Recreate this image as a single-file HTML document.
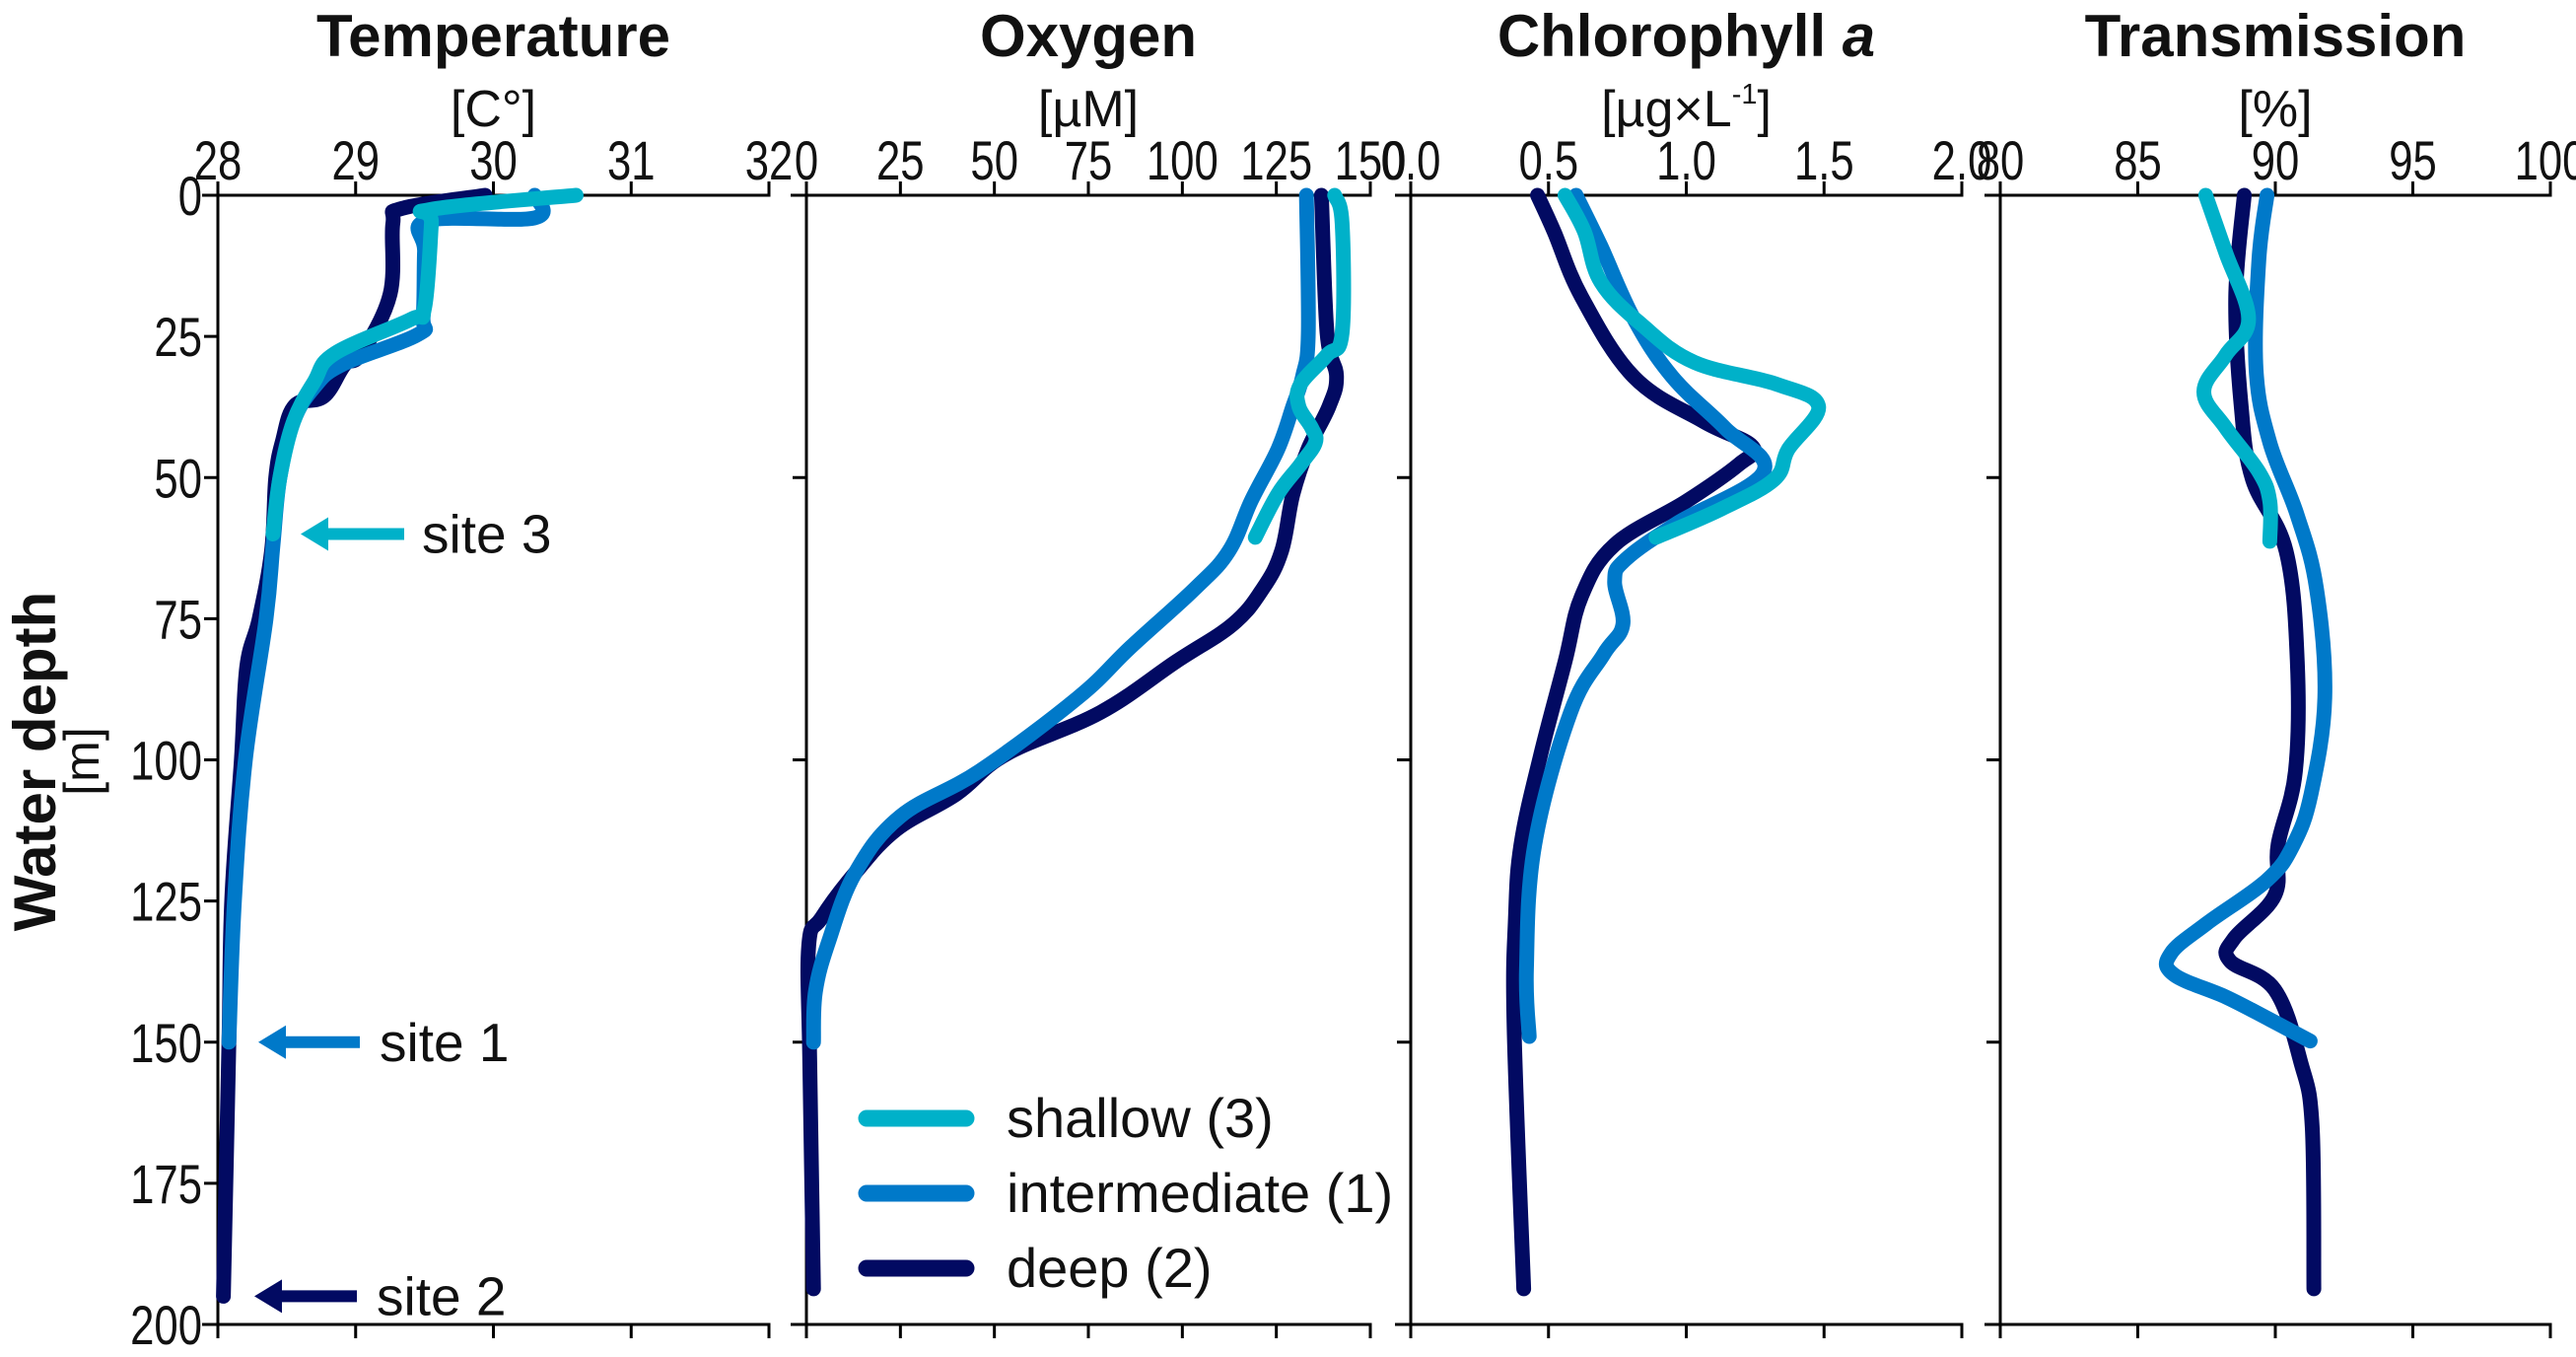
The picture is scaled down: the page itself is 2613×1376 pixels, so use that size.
<!DOCTYPE html>
<html><head><meta charset="utf-8"><style>
html,body{margin:0;padding:0;background:#fff;}
svg{display:block;}
text{font-family:"Liberation Sans",Arial,sans-serif;fill:#111;}
</style></head><body>
<svg id="chart" width="2613" height="1376" viewBox="0 0 2613 1376" xmlns="http://www.w3.org/2000/svg">
<g id="axes"></g>
<g id="series"></g>
<g id="labels">
  <text x="0" y="0" transform="translate(56,772) rotate(-90)" text-anchor="middle" font-size="60" font-weight="bold">Water depth</text>
  <text x="0" y="0" transform="translate(100,772) rotate(-90)" text-anchor="middle" font-size="50">[m]</text>
</g>
<g id="annot"></g>
<g id="legend"></g>
</svg>
<script>
// ---- data: depth (m) and values per series ----
const tempShallowD = [0,2.5,5,20,22,28,33,40,50,60];
const tempShallowV = [30.6,29.55,29.55,29.5,29.4,28.85,28.7,28.55,28.45,28.4];
const tempInterD = [0,4,4.5,10,21.6,24.7,30,34,40,50,62,75,100,125,150];
const tempInterV = [30.3,30.3,29.52,29.5,29.49,29.45,28.9,28.7,28.55,28.45,28.4,28.35,28.2,28.12,28.08];
const tempDeepD = [0,2.3,5,17.5,28,30,35.6,37.2,43.4,50,62.9,75,83.5,100,125,150,195];
const tempDeepV = [29.94,29.34,29.27,29.25,29.04,28.92,28.77,28.56,28.47,28.42,28.39,28.3,28.21,28.17,28.1,28.08,28.04];

const oxyShallowD = [0,5,24.4,28.3,33.5,37.4,41.2,43.8,47.7,52.9,60.6];
const oxyShallowV = [140.5,142.5,142.5,138.5,131.4,131,134.4,135.4,131.4,125.4,119.4];
const oxyInterD = [0,24.4,32,37.4,45,54,63,69.7,80,89,102,110,120,132,141,150];
const oxyInterV = [133,133.5,132,129.4,125.4,118.4,112.4,103.3,86.3,72.2,46,25,13,6,2.4,1.9];
const oxyDeepD = [0,24.4,32,37.4,45,53,63,69.7,76,82.6,91.6,99,106,112.3,120,128,133,153.6,193.7];
const oxyDeepV = [137,138.5,141,139,133.4,129.4,126.4,121.4,113.4,98.3,78.2,53.1,40,24,13,4,0.6,0.9,1.9];

const chlShallowD = [0,6.4,15.4,23,29.6,33.5,37.4,45,50.3,55.5,60.6];
const chlShallowV = [0.56,0.63,0.69,0.84,1.03,1.33,1.48,1.37,1.32,1.13,0.89];
const chlInterD = [0,9,21.9,32.2,41.2,49,58,64.5,68.4,76,81.3,91.6,115,137,149];
const chlInterV = [0.60,0.69,0.81,0.95,1.14,1.28,0.97,0.78,0.74,0.77,0.70,0.58,0.45,0.42,0.43];
const chlDeepD = [0,6.4,18,32.2,40,44.5,47.7,54.2,61.9,71,82.6,99.4,115,128,147,193.7];
const chlDeepV = [0.46,0.52,0.62,0.81,1.06,1.24,1.19,1.0,0.74,0.62,0.56,0.47,0.40,0.38,0.375,0.41];

const trShallowD = [0,10.2,21.9,28.3,34.8,41.2,49,54.2,61.3];
const trShallowV = [87.47,88.2,89.03,88.2,87.4,88.2,89.4,89.8,89.8];
const trInterD = [0,11.5,30.9,43.8,56.7,69.7,89,106,115,121.3,129,134.3,138,142,146,149.8];
const trInterV = [89.7,89.4,89.3,89.8,90.8,91.5,91.8,91.3,90.66,89.7,87.5,86.2,86.3,88.2,89.8,91.27];
const trDeepD = [0,18,37.4,50.3,63,82.6,102,115,124,131.7,135.6,140.7,153.6,165,193.7];
const trDeepV = [88.87,88.56,88.76,89.17,90.39,90.8,90.73,90.1,89.98,88.49,88.35,89.98,90.93,91.34,91.4];

const depthTicks = [0,25,50,75,100,125,150,175,200];
const tempTicks = [28,29,30,31,32];
const oxyTicks = [0,25,50,75,100,125,150];
const chlTicks = [0.0,0.5,1.0,1.5,2.0];
const chlTickLabels = ["0.0","0.5","1.0","1.5","2.0"];
const trTicks = [80,85,90,95,100];

const COL = {shallow:"#00b1c9", inter:"#0079c9", deep:"#020a62"};
const NS = "http://www.w3.org/2000/svg";
const Y0 = 198, Y1 = 1343;
function yScale(d){ return Y0 + d/200*(Y1-Y0); }
function mk(tag, attrs, parent){ const e=document.createElementNS(NS,tag); for(const k in attrs) e.setAttribute(k,attrs[k]); parent.appendChild(e); return e; }

const panels = [
 {key:"temperature", title:"Temperature", unit:"[C°]", x0:221, x1:780, min:28, max:32, ticks:tempTicks, labels:tempTicks.map(String),
  series:[["deep",tempDeepD,tempDeepV],["inter",tempInterD,tempInterV],["shallow",tempShallowD,tempShallowV]]},
 {key:"oxygen", title:"Oxygen", unit:"[µM]", x0:818, x1:1390, min:0, max:150, ticks:oxyTicks, labels:oxyTicks.map(String),
  series:[["deep",oxyDeepD,oxyDeepV],["inter",oxyInterD,oxyInterV],["shallow",oxyShallowD,oxyShallowV]]},
 {key:"chlorophyll", title:"Chlorophyll ", italic:"a", unit:"[µg×L", sup:"-1", unitEnd:"]", x0:1431, x1:1990, min:0, max:2, ticks:chlTicks, labels:chlTickLabels,
  series:[["deep",chlDeepD,chlDeepV],["inter",chlInterD,chlInterV],["shallow",chlShallowD,chlShallowV]]},
 {key:"transmission", title:"Transmission", unit:"[%]", x0:2029, x1:2587, min:80, max:100, ticks:trTicks, labels:trTicks.map(String),
  series:[["deep",trDeepD,trDeepV],["inter",trInterD,trInterV],["shallow",trShallowD,trShallowV]]}
];

const axes = document.getElementById('axes');
const series = document.getElementById('series');

function smoothPath(pts){
  let d = "M"+pts[0][0].toFixed(1)+","+pts[0][1].toFixed(1);
  for(let i=0;i<pts.length-1;i++){
    const p0=pts[Math.max(0,i-1)], p1=pts[i], p2=pts[i+1], p3=pts[Math.min(pts.length-1,i+2)];
    const t=0.18;
    const c1=[p1[0]+(p2[0]-p0[0])*t, p1[1]+(p2[1]-p0[1])*t];
    const c2=[p2[0]-(p3[0]-p1[0])*t, p2[1]-(p3[1]-p1[1])*t];
    d+=" C"+c1[0].toFixed(1)+","+c1[1].toFixed(1)+" "+c2[0].toFixed(1)+","+c2[1].toFixed(1)+" "+p2[0].toFixed(1)+","+p2[1].toFixed(1);
  }
  return d;
}

panels.forEach((p,pi)=>{
  const xs = v => p.x0 + (v-p.min)/(p.max-p.min)*(p.x1-p.x0);
  const cx = (p.x0+p.x1)/2;
  const g = mk('g',{},axes);
  
  
  const t = mk('text',{x:cx, y:57, 'text-anchor':'middle','font-size':60,'font-weight':'bold'},g);
  
  
  t.textContent = p.title;
  if(p.italic){ const ts=mk('tspan',{'font-style':'italic'},t); ts.textContent=p.italic; }
  const u = mk('text',{x:cx, y:128, 'text-anchor':'middle','font-size':52},g);
  
  
  u.textContent = p.unit;
  if(p.sup){ const s1=mk('tspan',{'font-size':29,dy:-23},u); s1.textContent=p.sup; const s2=mk('tspan',{dy:23},u); s2.textContent=p.unitEnd; }
  const ext = 16;
  mk('line',{x1:p.x0-ext,y1:Y0,x2:p.x1+1.5,y2:Y0,stroke:'#000','stroke-width':3},g);
  mk('line',{x1:p.x0-ext,y1:Y1,x2:p.x1+1.5,y2:Y1,stroke:'#000','stroke-width':3},g);
  mk('line',{x1:p.x0,y1:Y0,x2:p.x0,y2:Y1+14,stroke:'#000','stroke-width':3},g);
  p.ticks.forEach((v,i)=>{
    const x = xs(v);
    mk('line',{x1:x,y1:Y0,x2:x,y2:Y0-14,stroke:'#000','stroke-width':3},g);
    mk('line',{x1:x,y1:Y1,x2:x,y2:Y1+14,stroke:'#000','stroke-width':3},g);
    const tl = mk('text',{x:0,y:0,transform:`translate(${x.toFixed(1)},182) scale(0.78,1)`,'text-anchor':'middle','font-size':56},g);
    
    
    tl.textContent = p.labels[i];
  });
  depthTicks.forEach(d=>{
    const y = yScale(d);
    if(pi===0){
      mk('line',{x1:p.x0-14,y1:y,x2:p.x0,y2:y,stroke:'#000','stroke-width':3},g);
      const yl = mk('text',{x:0,y:0,transform:`translate(${p.x0-16},${(y+20).toFixed(1)}) scale(0.78,1)`,'text-anchor':'end','font-size':56},g);
      
      
      yl.textContent = String(d);
    } else if(d>0 && d<200 && d%50===0){
      mk('line',{x1:p.x0-14,y1:y,x2:p.x0,y2:y,stroke:'#000','stroke-width':3},g);
    }
  });
  p.series.forEach(([k,D,V])=>{
    const pts = D.map((d,i)=>[xs(V[i]), yScale(d)]);
    const path = mk('path',{d:smoothPath(pts),fill:'none',stroke:COL[k],'stroke-width':15,'stroke-linecap':'round','stroke-linejoin':'round'},series);
    
    
  });
});

const annot = document.getElementById('annot');
const sites = [["site 3",60,"shallow",305,410,428],["site 1",150,"inter",262,365,385],["site 2",195,"deep",258,362,382]];
sites.forEach(([lab,d,k,xa,xb,xt])=>{
  const y = yScale(d);
  const g = mk('g',{},annot);
  
  
  mk('line',{x1:xa+20,y1:y,x2:xb,y2:y,stroke:COL[k],'stroke-width':12},g);
  mk('polygon',{points:`${xa},${y} ${xa+28},${y-17} ${xa+28},${y+17}`,fill:COL[k]},g);
  const t = mk('text',{x:xt,y:y+19,'font-size':55},g);
  t.textContent = lab;
});

const legend = document.getElementById('legend');
const legItems = [["shallow (3)","shallow",1134],["intermediate (1)","inter",1210],["deep (2)","deep",1286]];
legItems.forEach(([lab,k,y])=>{
  const g = mk('g',{},legend);
  
  
  mk('line',{x1:879,y1:y,x2:980,y2:y,stroke:COL[k],'stroke-width':17,'stroke-linecap':'round'},g);
  const t = mk('text',{x:1021,y:y+19,'font-size':56},g);
  t.textContent = lab;
});
</script>
</body></html>
